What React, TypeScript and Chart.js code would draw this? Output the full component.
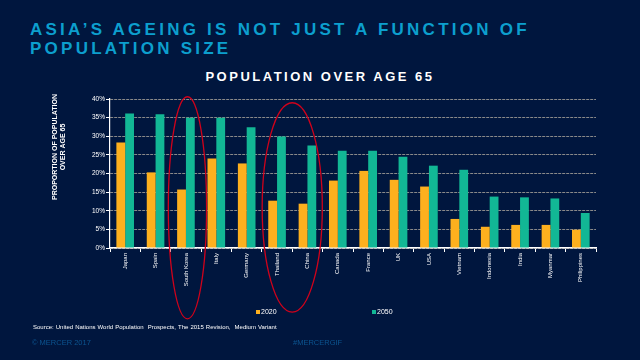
import React, { useEffect, useRef } from "react";
import { Chart, registerables } from "chart.js";

Chart.register(...registerables);

const categories = [
  "Japan", "Spain", "South Korea", "Italy", "Germany", "Thailand", "China", "Canada",
  "France", "UK", "USA", "Vietnam", "Indonesia", "India", "Myanmar", "Philippines",
];
const values2020 = [28.3, 20.3, 15.7, 24.0, 22.7, 12.7, 11.9, 18.1, 20.7, 18.3, 16.5, 7.8, 5.7, 6.2, 6.2, 4.9];
const values2050 = [36.1, 35.9, 35.0, 35.0, 32.4, 29.9, 27.5, 26.1, 26.1, 24.5, 22.1, 21.0, 13.8, 13.6, 13.3, 9.4];
const seriesLabels = ["2020", "2050"];
const yMin = 0;
const yMax = 40;
const yStep = 5;

const mainTitle = ["ASIA\u2019S AGEING IS NOT JUST A FUNCTION OF", "POPULATION SIZE"];
const chartTitle = "POPULATION OVER AGE 65";
const yAxisTitle = ["PROPORTION OF POPULATION", "OVER AGE 65"];
const sourceText = "Source: United Nations World Population  Prospects, The 2015 Revision,  Medium Variant";
const footerLeft = "\u00A9 MERCER 2017";
const footerRight = "#MERCERGIF";

// highlight ellipses: category centre (index), half width (in categories), top/bottom (values)
const highlightCenter = [2.05, 5.5];
const highlightHalfWidth = [0.63, 0.99];
const highlightTop = [40.6, 39.0];
const highlightBottom = [-19.0, -17.2];

const BG = "#00163E";
const ORANGE = "#FDB01E";
const GREEN = "#12B795";
const TITLE_BLUE = "#0C9FCE";
const FOOT_BLUE = "#0B5591";
const FONT = '"Liberation Sans", Arial, sans-serif';

const ellipsePlugin = {
  id: "highlightEllipses",
  afterDraw(chart: any) {
    const { ctx, scales } = chart;
    const x = scales.x;
    const y = scales.y;
    const unit = x.getPixelForValue(1) - x.getPixelForValue(0);
    ctx.save();
    ctx.strokeStyle = "#D0021B";
    ctx.lineWidth = 1.3;
    for (let i = 0; i < highlightCenter.length; i++) {
      const cx = x.getPixelForValue(highlightCenter[i]);
      const top = y.getPixelForValue(highlightTop[i]);
      const bottom = y.getPixelForValue(highlightBottom[i]);
      ctx.beginPath();
      ctx.ellipse(cx, (top + bottom) / 2, highlightHalfWidth[i] * unit, (bottom - top) / 2, 0, 0, Math.PI * 2);
      ctx.stroke();
    }
    ctx.restore();
  },
};

const yTitlePlugin = {
  id: "yTitle",
  afterDraw(chart: any) {
    const { ctx, chartArea } = chart;
    ctx.save();
    ctx.fillStyle = "#FFFFFF";
    ctx.font = `bold 7px ${FONT}`;
    ctx.textAlign = "center";
    ctx.textBaseline = "middle";
    const cy = chartArea.top + 48;
    const xs = [chartArea.left - 54.5, chartArea.left - 47];
    yAxisTitle.forEach((line, i) => {
      ctx.save();
      ctx.translate(xs[i], cy);
      ctx.rotate(-Math.PI / 2);
      ctx.fillText(line, 0, 0);
      ctx.restore();
    });
    ctx.restore();
  },
};

export default function App() {
  const canvasRef = useRef<HTMLCanvasElement | null>(null);

  useEffect(() => {
    document.body.style.margin = "0";
    const canvas = canvasRef.current;
    if (!canvas) return;
    const chart = new Chart(canvas, {
      type: "bar",
      data: {
        labels: categories,
        datasets: [
          { label: seriesLabels[0], data: values2020, backgroundColor: ORANGE, borderWidth: 0 },
          { label: seriesLabels[1], data: values2050, backgroundColor: GREEN, borderWidth: 0 },
        ],
      },
      options: {
        responsive: false,
        animation: false,
        layout: { padding: { top: 99, left: 90, right: 44, bottom: 52 } },
        datasets: { bar: { categoryPercentage: 0.58, barPercentage: 1.0 } },
        plugins: {
          legend: { display: false },
          title: { display: false },
          tooltip: { enabled: false },
        },
        scales: {
          x: {
            afterFit: (s: any) => { s.height = 60; },
            grid: { display: true, drawOnChartArea: false, drawTicks: true, tickLength: 4, tickColor: "#FFFFFF", tickWidth: 1, offset: true },
            border: { display: true, color: "#FFFFFF", width: 1.5 },
            ticks: {
              color: "#FFFFFF",
              font: { family: FONT, size: 6 },
              minRotation: 90,
              maxRotation: 90,
              autoSkip: false,
              padding: 1,
            },
          },
          y: {
            min: yMin,
            max: yMax,
            afterFit: (s: any) => { s.width = 20; },
            grid: {
              display: true,
              drawOnChartArea: true,
              drawTicks: true,
              tickLength: 4,
              tickColor: "#FFFFFF",
              color: "#8A8A8A",
              lineWidth: 1,
            },
            border: { display: true, color: "#FFFFFF", width: 1.2, dash: [3, 1] },
            ticks: {
              stepSize: yStep,
              color: "#FFFFFF",
              font: { family: FONT, size: 6.5 },
              padding: 1,
              callback: (v: any) => `${v}%`,
            },
          },
        },
      },
      plugins: [ellipsePlugin, yTitlePlugin],
    });
    return () => chart.destroy();
  }, []);

  return (
    <div
      style={{
        position: "relative",
        width: 640,
        height: 360,
        background: BG,
        overflow: "hidden",
        fontFamily: FONT,
      }}
    >
      <div
        style={{
          position: "absolute",
          left: 30,
          top: 21,
          color: TITLE_BLUE,
          fontWeight: "bold",
          fontSize: 17,
          lineHeight: "18.7px",
          letterSpacing: 3.25,
          whiteSpace: "nowrap",
        }}
      >
        {mainTitle.map((l) => (
          <div key={l}>{l}</div>
        ))}
      </div>
      <div
        style={{
          position: "absolute",
          left: 0,
          width: 640,
          top: 69,
          textAlign: "center",
          color: "#FFFFFF",
          fontWeight: "bold",
          fontSize: 13,
          lineHeight: "15px",
          letterSpacing: 2.5,
          whiteSpace: "nowrap",
        }}
      >
        {chartTitle}
      </div>
      <canvas ref={canvasRef} width={640} height={360} style={{ position: "absolute", left: 0, top: 0 }} />
      <div style={{ position: "absolute", left: 256, top: 307, color: "#FFFFFF", fontSize: 7, lineHeight: "10px", display: "flex", alignItems: "center" }}>
        <span style={{ display: "inline-block", width: 4, height: 4, background: ORANGE, marginRight: 1 }} />
        <span>{seriesLabels[0]}</span>
      </div>
      <div style={{ position: "absolute", left: 372, top: 307, color: "#FFFFFF", fontSize: 7, lineHeight: "10px", display: "flex", alignItems: "center" }}>
        <span style={{ display: "inline-block", width: 4, height: 4, background: GREEN, marginRight: 1 }} />
        <span>{seriesLabels[1]}</span>
      </div>
      <div style={{ position: "absolute", left: 33, top: 322, color: "#FFFFFF", fontSize: 6, lineHeight: "10px", whiteSpace: "pre", wordSpacing: 0.4 }}>
        {sourceText}
      </div>
      <div style={{ position: "absolute", left: 32, top: 338, color: FOOT_BLUE, fontSize: 7.5, lineHeight: "10px", whiteSpace: "pre" }}>
        {footerLeft}
      </div>
      <div style={{ position: "absolute", left: 293, top: 338, color: FOOT_BLUE, fontSize: 7.5, lineHeight: "10px", whiteSpace: "pre" }}>
        {footerRight}
      </div>
    </div>
  );
}
